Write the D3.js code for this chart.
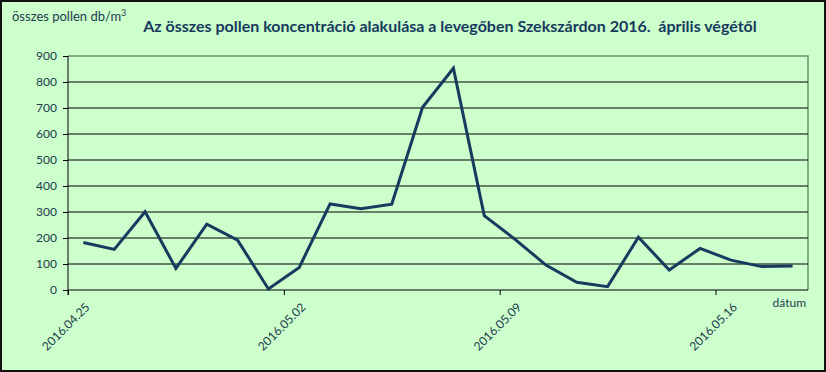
<!DOCTYPE html>
<meta charset="utf-8">
<head>
    <style>
        body { margin: 0; background: #fff; }
        text { font-family: Lato, "Open Sans", sans-serif; }
    </style>
    <script src="https://d3js.org/d3.v7.min.js"></script>
</head>
<body>
    <div id="chart"></div>
    <script>
        // daily pollen values from 2016.04.25
        var startDate = "2016.04.25";
        var pollen = [183, 156, 301, 83, 253, 192, 4, 87, 331, 313, 330, 703, 853, 286,
            195, 96, 30, 13, 203, 77, 160, 115, 90, 92];
        var yTicks = [0, 100, 200, 300, 400, 500, 600, 700, 800, 900];
        var xTickLabels = ["2016.04.25", "2016.05.02", "2016.05.09", "2016.05.16"];
        var title = "Az összes pollen koncentráció alakulása a levegőben Szekszárdon 2016.  április végétől";

        var width = 826, height = 372;
        var margin = { top: 56, right: 18, bottom: 82, left: 68 };

        var parse = d3.timeParse("%Y.%m.%d");
        var day0 = parse(startDate);
        var data = pollen.map(function (v, i) {
            return { date: d3.timeHour.offset(d3.timeDay.offset(day0, i), 12), value: v };
        });

        var svg = d3.select("#chart").append("svg")
            .attr("width", width)
            .attr("height", height);

        // background + outer frame
        svg.append("rect")
            .attr("x", 1).attr("y", 1)
            .attr("width", width - 2).attr("height", height - 2)
            .attr("fill", "#ccffcc")
            .attr("stroke", "#111")
            .attr("stroke-width", 2);

        var x = d3.scaleTime()
            .domain([day0, d3.timeDay.offset(day0, pollen.length)])
            .range([margin.left, width - margin.right]);

        var y = d3.scaleLinear()
            .domain([0, 900])
            .range([height - margin.bottom, margin.top]);

        // plot area border (top + right)
        svg.append("path")
            .attr("d", "M" + x.range()[0] + "," + y(900) + "H" + x.range()[1] + "V" + y(0))
            .attr("fill", "none")
            .attr("stroke", "#6f8f6f")
            .attr("stroke-width", 1.5);

        // gridlines
        svg.append("g")
            .selectAll("line")
            .data(yTicks.filter(function (d) { return d > 0 && d < 900; }))
            .enter().append("line")
            .attr("x1", x.range()[0]).attr("x2", x.range()[1])
            .attr("y1", function (d) { return y(d); })
            .attr("y2", function (d) { return y(d); })
            .attr("stroke", "#000")
            .attr("stroke-width", 1);

        // y axis
        var yAxis = svg.append("g")
            .attr("transform", "translate(" + margin.left + ",0)")
            .call(d3.axisLeft(y).tickValues(yTicks).tickSize(5).tickPadding(6));
        yAxis.selectAll("line, path").attr("stroke", "#000");
        yAxis.select(".domain").attr("d", "M0," + y(900) + "V" + (y(0) + 5));
        yAxis.selectAll("text")
            .attr("fill", "#1f3b4d")
            .style("font-size", "12px");

        // x axis
        var tickDates = xTickLabels.map(parse);
        var xAxis = svg.append("g")
            .attr("transform", "translate(0," + y(0) + ")")
            .call(d3.axisBottom(x).tickValues(tickDates).tickSize(5)
                .tickFormat(function (d, i) { return xTickLabels[i]; }));
        xAxis.selectAll("line").attr("stroke", "#000");
        xAxis.select(".domain").attr("d", "M" + x.range()[0] + ",0H" + x.range()[1]).attr("stroke", "#000");
        xAxis.selectAll("text")
            .attr("fill", "#1f3b4d")
            .style("font-size", "12px")
            .attr("text-anchor", "end")
            .attr("dy", null)
            .attr("y", 0)
            .attr("transform", "translate(22,18) rotate(-45)");

        // the series
        var line = d3.line()
            .x(function (d) { return x(d.date); })
            .y(function (d) { return y(d.value); });

        svg.append("path")
            .datum(data)
            .attr("d", line)
            .attr("fill", "none")
            .attr("stroke", "#173a5e")
            .attr("stroke-width", 3)
            .attr("stroke-linejoin", "miter");

        // titles
        svg.append("text")
            .attr("x", 450).attr("y", 32)
            .attr("text-anchor", "middle")
            .attr("fill", "#173a5e")
            .style("font-size", "16px")
            .style("font-weight", "bold")
            .style("white-space", "pre")
            .text(title);

        var yl = svg.append("text")
            .attr("x", 12).attr("y", 21)
            .attr("fill", "#1f3b4d")
            .style("font-size", "13px")
            .text("összes pollen db/m");
        yl.append("tspan")
            .attr("dy", -5)
            .style("font-size", "9px")
            .text("3");

        svg.append("text")
            .attr("x", 806).attr("y", 307)
            .attr("text-anchor", "end")
            .attr("fill", "#1f3b4d")
            .style("font-size", "12px")
            .text("dátum");
    </script>
</body>
